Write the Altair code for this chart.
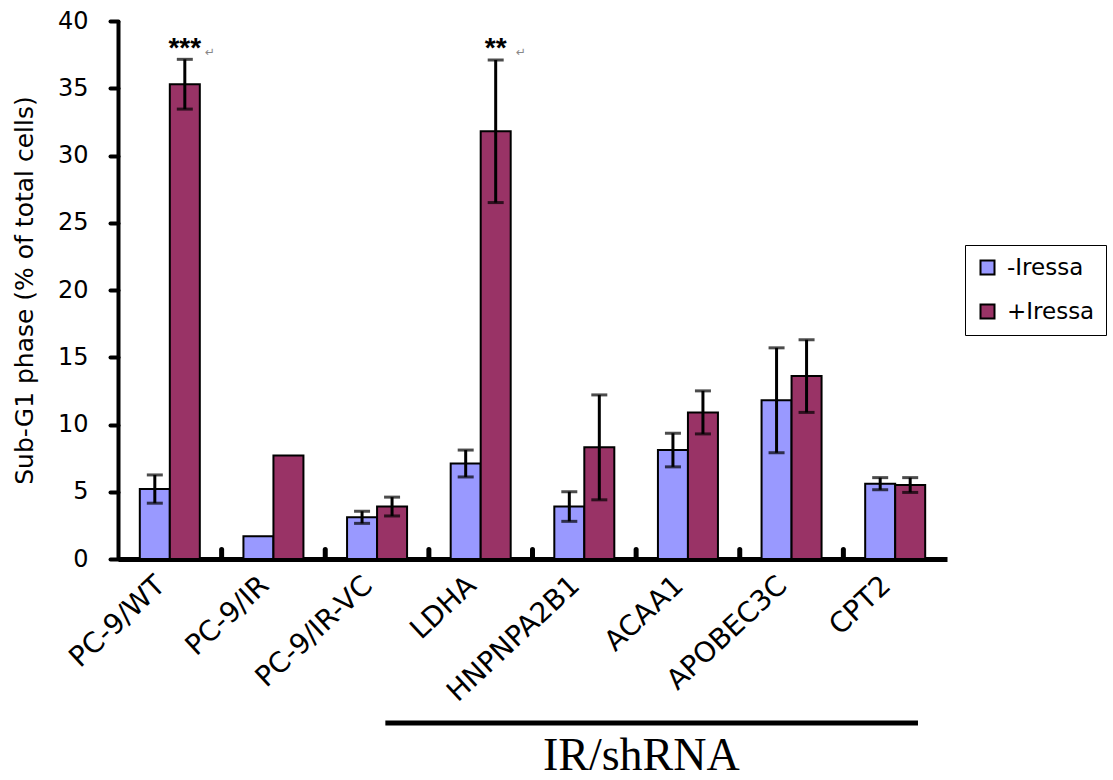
import altair as alt
import pandas as pd

categories = ["PC-9/WT", "PC-9/IR", "PC-9/IR-VC", "LDHA", "HNPNPA2B1", "ACAA1", "APOBEC3C", "CPT2"]
series = ["-Iressa", "+Iressa"]
minus_vals = [5.2, 1.7, 3.1, 7.1, 3.9, 8.1, 11.8, 5.6]
plus_vals = [35.3, 7.7, 3.9, 31.8, 8.3, 10.9, 13.6, 5.5]
minus_err = [1.05, None, 0.45, 1.0, 1.1, 1.25, 3.9, 0.45]
plus_err = [1.85, None, 0.7, 5.3, 3.9, 1.6, 2.7, 0.55]
colors = ["#9999FF", "#993366"]
y_ticks = [0, 5, 10, 15, 20, 25, 30, 35, 40]

rows = []
for i, c in enumerate(categories):
    for s, vals, errs in ((series[0], minus_vals, minus_err), (series[1], plus_vals, plus_err)):
        v = vals[i]
        e = errs[i]
        rows.append({
            "category": c, "series": s, "value": v,
            "lo": (v - e) if e is not None else None,
            "hi": (v + e) if e is not None else None,
        })
df = pd.DataFrame(rows)

ann_df = pd.DataFrame({"category": ["PC-9/WT", "LDHA"], "series": ["+Iressa", "+Iressa"],
                       "label": ["***", "**"]})
sep_df = pd.DataFrame({"category": categories[1:]})
group_df = pd.DataFrame({"category": ["PC-9/IR-VC"], "end": ["CPT2"], "label": ["IR/shRNA"]})
group_text_df = pd.DataFrame({"category": ["ACAA1"], "label": ["IR/shRNA"]})

FONT = "DejaVu Sans"

x_scale = alt.Scale(domain=categories, paddingInner=0, paddingOuter=0)
xo_scale = alt.Scale(domain=series, paddingInner=0, paddingOuter=0.727)
y_scale = alt.Scale(domain=[0, 40], nice=False)

x_enc = alt.X("category:N", scale=x_scale,
              axis=alt.Axis(title=None, labelAngle=-43, labelFontSize=28, labelFont=FONT,
                            labelColor="black", ticks=False, domain=True, domainWidth=5,
                            domainColor="black", labelPadding=12, labelAlign="right",
                            labelBaseline="top", labelOffset=-18))
xo_enc = alt.XOffset("series:N", scale=xo_scale)

base = alt.Chart(df).encode(x=x_enc, xOffset=xo_enc)

bars = base.mark_bar(stroke="black", strokeWidth=2).encode(
    y=alt.Y("value:Q", scale=y_scale,
            axis=alt.Axis(values=y_ticks, grid=False, title="Sub-G1 phase (% of total cells)",
                          titleFontSize=25, titleFont=FONT, titleFontWeight="normal",
                          titleColor="black", titlePadding=20,
                          labelFontSize=24, labelFont=FONT, labelColor="black", labelPadding=22,
                          domainWidth=4, domainColor="black", tickWidth=4, tickSize=8,
                          tickColor="black", tickCap="round")),
    color=alt.Color("series:N",
                    scale=alt.Scale(domain=series, range=colors),
                    legend=alt.Legend(title=None, orient="none", legendX=847, legendY=224,
                                      symbolType="square", symbolSize=196,
                                      symbolStrokeColor="black", symbolStrokeWidth=2,
                                      labelFontSize=23, labelFont=FONT, labelColor="black",
                                      rowPadding=20, padding=11, strokeColor="black",
                                      fillColor="white", labelOffset=8)),
)

errs = base.transform_filter("isValid(datum.lo)")
err_line = errs.mark_rule(color="black", strokeWidth=3).encode(
    y=alt.Y("lo:Q", scale=y_scale), y2="hi:Q")
cap_lo = errs.mark_tick(color="black", thickness=3, size=16, orient="horizontal").encode(
    y=alt.Y("lo:Q", scale=y_scale))
cap_hi = errs.mark_tick(color="black", thickness=3, size=16, orient="horizontal").encode(
    y=alt.Y("hi:Q", scale=y_scale))

ann = alt.Chart(ann_df).encode(x=alt.X("category:N", scale=x_scale),
                               xOffset=alt.XOffset("series:N", scale=xo_scale))
ann_text = ann.mark_text(fontSize=28, font="Liberation Sans", fontWeight="bold", color="black",
                         baseline="middle").encode(y=alt.datum(37.9), text="label:N")
ann_ret1 = alt.Chart(ann_df.iloc[[0]]).mark_text(
    fontSize=12, font="DejaVu Sans", color="#888888", baseline="middle", align="left", dx=20
).encode(x=alt.X("category:N", scale=x_scale), xOffset=alt.XOffset("series:N", scale=xo_scale),
         y=alt.datum(37.7), text=alt.value("↵"))
ann_ret2 = alt.Chart(ann_df.iloc[[1]]).mark_text(
    fontSize=12, font="DejaVu Sans", color="#888888", baseline="middle", align="left", dx=20
).encode(x=alt.X("category:N", scale=x_scale), xOffset=alt.XOffset("series:N", scale=xo_scale),
         y=alt.datum(37.7), text=alt.value("↵"))

seps = alt.Chart(sep_df).mark_rule(color="black", strokeWidth=5, strokeCap="round").encode(
    x=alt.X("category:N", scale=x_scale, bandPosition=0),
    y=alt.datum(0), y2=alt.datum(0.7))

grp_line = alt.Chart(group_df).mark_rule(color="black", strokeWidth=5).encode(
    x=alt.X("category:N", scale=x_scale, bandPosition=0.58),
    x2=alt.X2("end:N", bandPosition=0.72),
    y=alt.datum(-12.2))
grp_text = alt.Chart(group_text_df).mark_text(fontSize=46, font="Liberation Serif", color="black",
                                               baseline="middle").encode(
    x=alt.X("category:N", scale=x_scale, bandPosition=0.05),
    y=alt.datum(-14.65), text="label:N")

chart = alt.layer(bars, err_line, cap_lo, cap_hi, ann_text, ann_ret1, ann_ret2, seps,
                  grp_line, grp_text).properties(
    width=829, height=538,
    background="white",
    autosize=alt.AutoSizeParams(type="none"),
    padding={"left": 118, "top": 21, "right": 166, "bottom": 221},
).configure_view(strokeWidth=0, stroke="transparent")

chart.save("out.html", embed_options={"renderer": "svg", "actions": False})
